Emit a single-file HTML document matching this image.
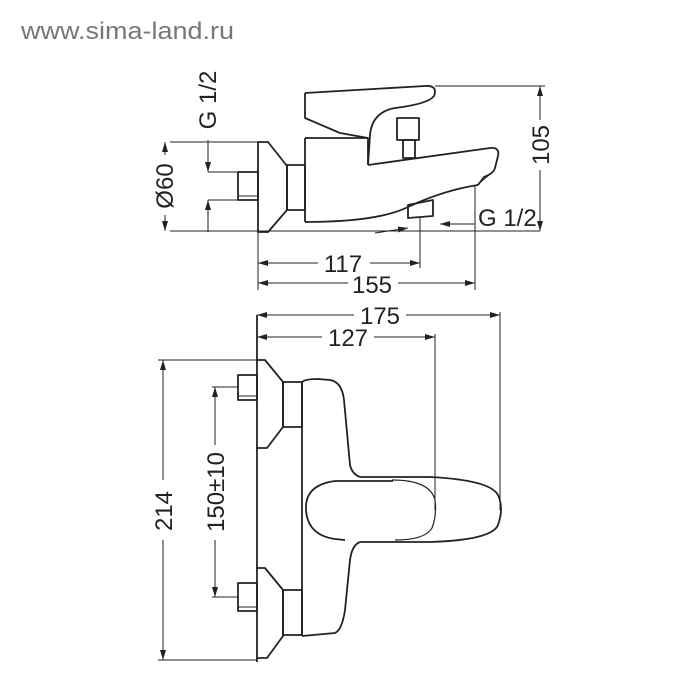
<!DOCTYPE html>
<html><head><style>
html,body{margin:0;padding:0;background:#fff;width:700px;height:700px;overflow:hidden}
svg{display:block}
</style></head><body>
<svg width="700" height="700" viewBox="0 0 700 700" xmlns="http://www.w3.org/2000/svg" font-family="Liberation Sans, sans-serif">
<defs>
<marker id="a" viewBox="0 0 10 6" refX="10" refY="3" markerWidth="10" markerHeight="6" orient="auto-start-reverse" markerUnits="userSpaceOnUse"><path d="M0,0 L10,3 L0,6 z" fill="#222"/></marker>
</defs>
<text x="21" y="39" font-size="24" fill="#777" textLength="213" lengthAdjust="spacingAndGlyphs">www.sima-land.ru</text>
<g fill="none" stroke="#222" stroke-width="1.8" stroke-linejoin="round">
<path d="M258,142 L268,142 L287,166 L287,210 L268,232 L258,232 Z"/>
<rect x="287" y="165" width="18" height="45"/>
<rect x="238" y="172" width="20" height="28"/>
<line x1="238" y1="196" x2="258" y2="196" stroke-width="1"/>
<path d="M305,138 L368,138 L368,165"/>
<line x1="305" y1="138" x2="305" y2="222"/>
<path d="M305,93 L305,118 L340,133 L368,138"/>
<path d="M305,93 L425,86 Q438,85 434,96 Q428,104 395,108 Q372,112 370,135 L368,165"/>
<path d="M368,165 L490,148 Q500,147 498,156 L495,168 Q494,173 484,177 L478,185"/>
<path d="M305,222 Q380,222 410,206 Q445,190 478,185"/>
<path d="M477,185 L494,171" stroke-width="1"/>
<rect x="397" y="118" width="22" height="22"/>
<rect x="403" y="140" width="12" height="18"/>
<path d="M408,205 L433,200 L433,216 L408,218 Z"/>
<g stroke-width="1">
<line x1="170" y1="231" x2="540" y2="231"/>
<line x1="170" y1="142" x2="258" y2="142"/>
<line x1="165" y1="142" x2="165" y2="231" marker-start="url(#a)" marker-end="url(#a)"/>
<line x1="208" y1="172" x2="238" y2="172"/>
<line x1="208" y1="200" x2="238" y2="200"/>
<line x1="208" y1="140" x2="208" y2="172" marker-end="url(#a)"/>
<line x1="208" y1="232" x2="208" y2="200" marker-end="url(#a)"/>
<line x1="435" y1="86" x2="545" y2="86"/>
<line x1="540" y1="86" x2="540" y2="231" marker-start="url(#a)" marker-end="url(#a)"/>
<line x1="258" y1="232" x2="258" y2="290"/>
<line x1="420" y1="218" x2="420" y2="268"/>
<line x1="475" y1="185" x2="475" y2="290"/>
<line x1="258" y1="263" x2="420" y2="263" marker-start="url(#a)" marker-end="url(#a)"/>
<line x1="258" y1="283" x2="475" y2="283" marker-start="url(#a)" marker-end="url(#a)"/>
<line x1="375" y1="233" x2="408" y2="228" marker-end="url(#a)"/>
<line x1="475" y1="224" x2="440" y2="224" marker-end="url(#a)"/>
</g>
<path d="M257,360 L265,360 L283,382 L283,427 L267,448 L257,448"/>
<rect x="283" y="382" width="19" height="45"/>
<rect x="238" y="375" width="19" height="25"/>
<line x1="238" y1="396" x2="257" y2="396" stroke-width="1"/>
<path d="M257,568 L265,568 L283,590 L283,636 L267,658 L257,658"/>
<rect x="283" y="590" width="19" height="45"/>
<rect x="238" y="583" width="19" height="28"/>
<line x1="238" y1="607" x2="257" y2="607" stroke-width="1"/>
<line x1="257" y1="315" x2="257" y2="662"/>
<path d="M302,382 Q305,379 318,379 L330,380 Q342,382 344,400 L350,465 Q352,474 360,477"/>
<line x1="302" y1="382" x2="302" y2="636"/>
<path d="M360,542 Q352,545 350,560 L345,610 Q342,630 335,633 L302,636"/>
<path d="M360,477 L430,477 Q490,480 498,495 Q504,508 498,525 Q492,540 430,542 L360,542"/>
<path d="M393,481 L335,481 Q305,485 306,509 Q307,535 335,539 L345,540"/>
<path d="M392,480 Q430,480 435,500 Q437,515 432,528 Q425,540 395,540" stroke-width="1.2"/>
<g stroke-width="1">
<line x1="500" y1="312" x2="500" y2="510"/>
<line x1="435" y1="334" x2="435" y2="510"/>
<line x1="257" y1="315" x2="500" y2="315" marker-start="url(#a)" marker-end="url(#a)"/>
<line x1="257" y1="337" x2="435" y2="337" marker-start="url(#a)" marker-end="url(#a)"/>
<line x1="158" y1="360" x2="257" y2="360"/>
<line x1="158" y1="660" x2="257" y2="660"/>
<line x1="163" y1="360" x2="163" y2="660" marker-start="url(#a)" marker-end="url(#a)"/>
<line x1="212" y1="387" x2="238" y2="387"/>
<line x1="212" y1="597" x2="238" y2="597"/>
<line x1="215" y1="387" x2="215" y2="597" marker-start="url(#a)" marker-end="url(#a)"/>
</g>
</g>
<g fill="#222" font-size="24">
<rect x="318" y="250" width="52" height="24" fill="#fff"/>
<text x="343" y="272" text-anchor="middle">117</text>
<rect x="348" y="272" width="50" height="22" fill="#fff"/>
<text x="372" y="293" text-anchor="middle">155</text>
<rect x="354" y="303" width="52" height="24" fill="#fff"/>
<text x="380" y="324" text-anchor="middle">175</text>
<rect x="322" y="326" width="52" height="22" fill="#fff"/>
<text x="348" y="346" text-anchor="middle">127</text>
<text x="478" y="226">G 1/2</text>
<rect x="530" y="120" width="22" height="50" fill="#fff"/>
<text transform="translate(549,145) rotate(-90)" text-anchor="middle">105</text>
<rect x="154" y="155" width="22" height="60" fill="#fff"/>
<text transform="translate(173,186) rotate(-90)" text-anchor="middle">Ø60</text>
<text transform="translate(216,100) rotate(-90)" text-anchor="middle">G 1/2</text>
<rect x="152" y="480" width="22" height="60" fill="#fff"/>
<text transform="translate(172,511) rotate(-90)" text-anchor="middle">214</text>
<rect x="204" y="445" width="22" height="95" fill="#fff"/>
<text transform="translate(224,492) rotate(-90)" text-anchor="middle">150±10</text>
</g>
</svg>
</body></html>
